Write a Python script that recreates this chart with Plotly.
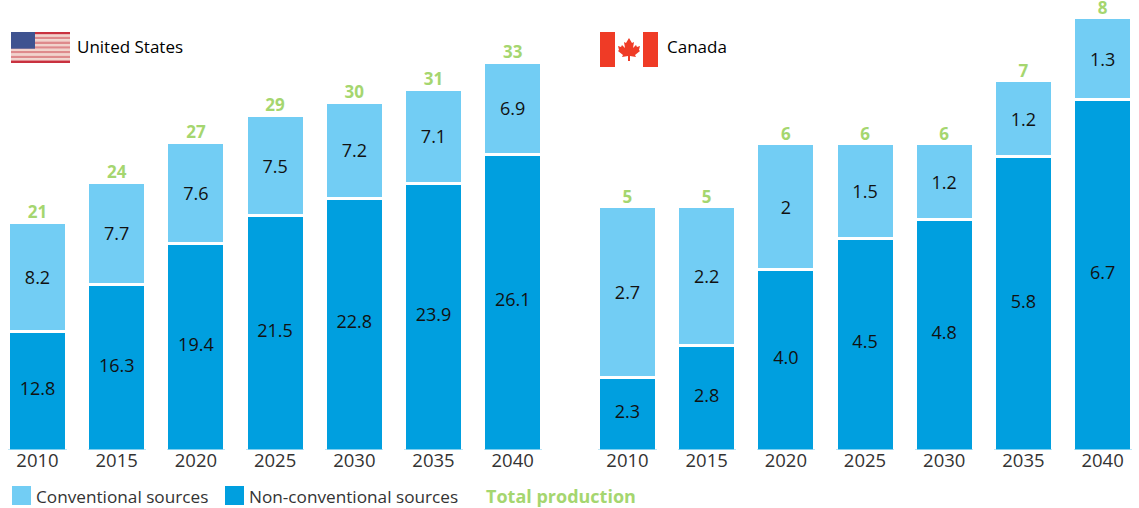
import plotly.graph_objects as go
from plotly.subplots import make_subplots

W, H = 1139, 508
FONT = "Open Sans"
LIGHT = "#72CDF4"
DARK = "#009FDF"
GREEN = "#A5D66F"

years = ["2010", "2015", "2020", "2025", "2030", "2035", "2040"]

us_nonconv = [12.8, 16.3, 19.4, 21.5, 22.8, 23.9, 26.1]
us_conv = [8.2, 7.7, 7.6, 7.5, 7.2, 7.1, 6.9]
us_total = [21, 24, 27, 29, 30, 31, 33]

ca_nonconv = [2.3, 2.8, 4.0, 4.5, 4.8, 5.8, 6.7]
ca_nonconv_text = ["2.3", "2.8", "4.0", "4.5", "4.8", "5.8", "6.7"]
ca_conv = [2.7, 2.2, 2, 1.5, 1.2, 1.2, 1.3]
ca_total = [5, 5, 6, 6, 6, 7, 8]

BASE_PX = 449.5
US_FLOOR, US_SCALE = 3.9, 13.3
CA_FLOOR, CA_SCALE = 1.15, 63.0


def px_x(x):
    return x / W


def px_y(y):
    return 1 - y / H


fig = make_subplots(rows=1, cols=2, shared_yaxes=False, horizontal_spacing=0)


def add_panel(col, nonconv, nonconv_text, conv, total, floor):
    fig.add_trace(go.Bar(
        x=years, y=nonconv, name="Non-conventional sources",
        marker=dict(color=DARK, line=dict(color="white", width=3)),
        showlegend=False), row=1, col=col)
    fig.add_trace(go.Bar(
        x=years, y=conv, name="Conventional sources",
        marker=dict(color=LIGHT, line=dict(color="white", width=3)),
        text=[str(v) for v in conv], textposition="inside", insidetextanchor="middle",
        textangle=0, insidetextfont=dict(family=FONT, size=18, color="#111111"),
        showlegend=False), row=1, col=col)
    # Lower-segment labels sit halfway up the part of the bar above the axis floor
    fig.add_trace(go.Scatter(
        x=years, y=[(floor + v) / 2 for v in nonconv], mode="text",
        name="Non-conventional values", text=nonconv_text, textposition="middle center",
        textfont=dict(family=FONT, size=18, color="#111111"),
        showlegend=False), row=1, col=col)
    fig.add_trace(go.Scatter(
        x=years, y=total, name="Total production", mode="text",
        text=[str(v) for v in total], textposition="top center",
        textfont=dict(family=FONT, size=17, color=GREEN, weight="bold"),
        cliponaxis=False, showlegend=False), row=1, col=col)


add_panel(1, us_nonconv, [str(v) for v in us_nonconv], us_conv, us_total, US_FLOOR)
add_panel(2, ca_nonconv, ca_nonconv_text, ca_conv, ca_total, CA_FLOOR)

y_domain = [px_y(BASE_PX), 1]
xaxis_style = dict(
    type="category", showgrid=False, showline=False, zeroline=False,
    ticks="", ticklabelstandoff=-2,
    tickfont=dict(family=FONT, size=18.5, color="#333333"),
)
fig.update_layout(
    width=W, height=H, barmode="stack", bargap=0.267,
    margin=dict(l=0, r=0, t=0, b=0), paper_bgcolor="white", plot_bgcolor="white",
    xaxis=dict(domain=[0, 552.3 / W], range=[-0.4735, 6.5], **xaxis_style),
    xaxis2=dict(domain=[570 / W, 1], range=[-0.726, 6.46], **xaxis_style),
    yaxis=dict(domain=y_domain, range=[US_FLOOR, US_FLOOR + BASE_PX / US_SCALE], visible=False),
    yaxis2=dict(domain=y_domain, range=[CA_FLOOR, CA_FLOOR + BASE_PX / CA_SCALE], visible=False),
)

shapes = []


def rect(x0, y0, x1, y1, color):
    shapes.append(dict(type="rect", xref="paper", yref="paper", layer="above",
                       x0=px_x(x0), x1=px_x(x1), y0=px_y(y0), y1=px_y(y1),
                       fillcolor=color, line=dict(width=0)))


# United States flag
fx0, fy0, fx1, fy1 = 11, 32, 70, 63
stripe = (fy1 - fy0) / 13
for i in range(13):
    rect(fx0, fy0 + i * stripe, fx1, fy0 + (i + 1) * stripe,
         ("#C9313F" if i in (0, 12) else "#DE8A8C") if i % 2 == 0 else "#F1D3CC")
rect(fx0, fy0, 35, fy0 + 7 * stripe, "#3F5390")

# Canadian flag
rect(600, 32, 658, 67, "#FFFFFF")
rect(600, 32, 615, 67, "#EF3B26")
rect(643, 32, 658, 67, "#EF3B26")
leaf = [(0, -11), (3, -6), (5, -7), (4, -1), (7, -4), (8, -2), (11, -3), (10, 1),
        (11, 2), (6, 6), (7, 8), (1, 7), (1, 12), (-1, 12), (-1, 7), (-7, 8), (-6, 6),
        (-11, 2), (-10, 1), (-11, -3), (-8, -2), (-7, -4), (-4, -1), (-5, -7), (-3, -6)]
path = "M " + " L ".join(f"{px_x(629 + a):.5f},{px_y(49 + b):.5f}" for a, b in leaf) + " Z"
shapes.append(dict(type="path", xref="paper", yref="paper", layer="above", path=path,
                   fillcolor="#EF3B26", line=dict(width=0)))

# Legend keys
rect(12, 486, 31, 505, LIGHT)
rect(225, 486, 244, 505, DARK)

fig.update_layout(shapes=shapes)


def label(x, y, text, color="#222222", size=17, **font_extra):
    fig.add_annotation(xref="paper", yref="paper", x=px_x(x), y=px_y(y), text=text,
                       showarrow=False, xanchor="left", yanchor="middle",
                       xshift=0, borderpad=0,
                       font=dict(family=FONT, size=size, color=color, **font_extra))


label(76, 46, "United States", color="#000000", size=17)
label(666, 46, "Canada", color="#000000", size=17)
label(35, 496, "Conventional sources", color="#333333", size=17.2)
label(248, 496, "Non-conventional sources", color="#333333", size=17.2)
label(485, 496, "Total production", color=GREEN, size=18, weight="bold")

fig.write_html("out.html")
